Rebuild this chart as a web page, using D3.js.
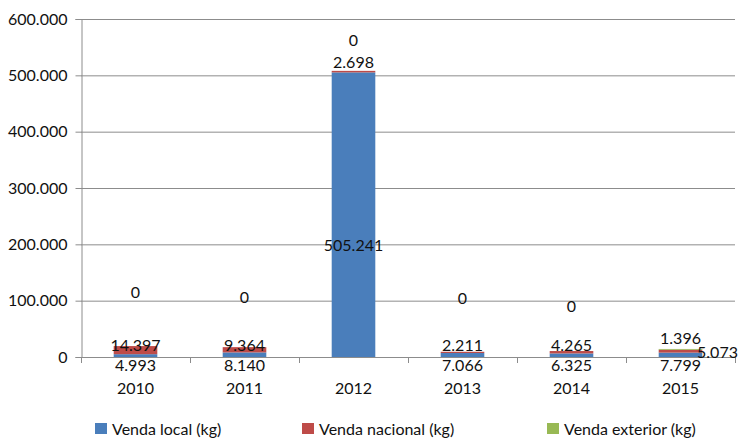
<!DOCTYPE html>
<html>
<head>
<meta charset="utf-8">
<script src="https://cdn.jsdelivr.net/npm/d3@7/dist/d3.min.js"></script>
<style>
  html, body { margin: 0; padding: 0; background: #fff; }
  svg { display: block; font-family: Lato, "Open Sans", sans-serif; }
</style>
</head>
<body>
<svg id="chart" width="738" height="439"></svg>
<script>
// ---- data ----
const years = ["2010", "2011", "2012", "2013", "2014", "2015"];
const vendaLocal = [4993, 8140, 505241, 7066, 6325, 7799];
const vendaNacional = [14397, 9364, 2698, 2211, 4265, 5073];
const vendaExterior = [0, 0, 0, 0, 0, 1396];
const seriesNames = ["Venda local (kg)", "Venda nacional (kg)", "Venda exterior (kg)"];
const yTicks = [0, 100000, 200000, 300000, 400000, 500000, 600000];

// label anchor heights (in value units) as placed in the original chart
const localLabelAt = [-14200, -14200, 199000, -14200, -14200, -14200];
const nacionalLabelAt = [22000, 22000, 524000, 22000, 22000, 9000];
const exteriorLabelAt = [117000, 108000, 563000, 105000, 92000, 35500];
const nacionalLabelDx = [0, 0, 0, 0, 0, 37];

const colors = ["#4a7ebb", "#be4b48", "#98b954"];

const svg = d3.select("#chart");
const margin = { left: 81, right: 3, top: 19, bottom: 82 };
const W = 738, H = 439;

const x = d3.scaleBand().domain(years).range([margin.left, W - margin.right])
  .paddingInner(0.6).paddingOuter(0.3);
const y = d3.scaleLinear().domain([0, 600000]).range([H - margin.bottom, margin.top]);

const fmt = v => d3.format(",")(v).replace(/,/g, ".");

// gridlines
svg.append("g").selectAll("line").data(yTicks.filter(d => d > 0)).join("line")
  .attr("x1", margin.left).attr("x2", W - margin.right)
  .attr("y1", d => y(d) + 0.5).attr("y2", d => y(d) + 0.5)
  .attr("stroke", "#8c8c8c").attr("stroke-width", 1);

// y axis
const yAxis = d3.axisLeft(y).tickValues(yTicks).tickSize(6).tickPadding(8).tickFormat(fmt);
const gy = svg.append("g").attr("transform", `translate(${margin.left + 0.5},0)`).call(yAxis);
gy.select(".domain").attr("stroke", "#8c8c8c");
gy.selectAll(".tick line").attr("stroke", "#8c8c8c");
gy.selectAll(".tick text").attr("font-size", 16).attr("fill", "#111").attr("font-family", "Lato, sans-serif");

// stacked data
const table = years.map((yr, i) => ({ year: yr, local: vendaLocal[i], nacional: vendaNacional[i], exterior: vendaExterior[i] }));
const stack = d3.stack().keys(["local", "nacional", "exterior"]);
const stacked = stack(table);

svg.append("g").selectAll("g").data(stacked).join("g")
  .attr("fill", (d, i) => colors[i])
  .selectAll("rect").data(d => d).join("rect")
  .attr("x", d => x(d.data.year))
  .attr("width", x.bandwidth())
  .attr("y", d => y(d[1]))
  .attr("height", d => Math.max(0, y(d[0]) - y(d[1])));

// x axis
const step = x.step();
const xg = svg.append("g");
xg.append("line").attr("x1", margin.left).attr("x2", W - margin.right)
  .attr("y1", y(0) + 0.5).attr("y2", y(0) + 0.5).attr("stroke", "#8c8c8c");
const tickXs = d3.range(years.length + 1).map(i => margin.left + i * step);
xg.selectAll("line.tk").data(tickXs).join("line").attr("class", "tk")
  .attr("x1", d => d + 0.5).attr("x2", d => d + 0.5)
  .attr("y1", y(0)).attr("y2", y(0) + 6).attr("stroke", "#8c8c8c");
xg.selectAll("text").data(years).join("text")
  .attr("x", d => x(d) + x.bandwidth() / 2).attr("y", y(0) + 30)
  .attr("text-anchor", "middle").attr("dominant-baseline", "central")
  .attr("font-size", 16).attr("fill", "#111").text(d => d);

// data labels
const lab = svg.append("g").attr("font-size", 16).attr("fill", "#111")
  .attr("text-anchor", "middle").attr("dominant-baseline", "central");
function addLabels(vals, at, dx) {
  lab.append("g").selectAll("text").data(years).join("text")
    .attr("x", (d, i) => x(d) + x.bandwidth() / 2 + (dx ? dx[i] : 0))
    .attr("y", (d, i) => y(at[i]))
    .text((d, i) => fmt(vals[i]));
}
addLabels(vendaLocal, localLabelAt);
addLabels(vendaNacional, nacionalLabelAt, nacionalLabelDx);
addLabels(vendaExterior, exteriorLabelAt);

// legend
const legX = [95, 302, 547];
const leg = svg.append("g").selectAll("g").data(seriesNames).join("g")
  .attr("transform", (d, i) => `translate(${legX[i]},428)`);
leg.append("rect").attr("x", 0).attr("y", -5).attr("width", 12).attr("height", 11)
  .attr("fill", (d, i) => colors[i]);
leg.append("text").attr("x", 17).attr("y", 0).attr("dominant-baseline", "central")
  .attr("font-size", 16).attr("fill", "#111").text(d => d);
</script>
</body>
</html>
